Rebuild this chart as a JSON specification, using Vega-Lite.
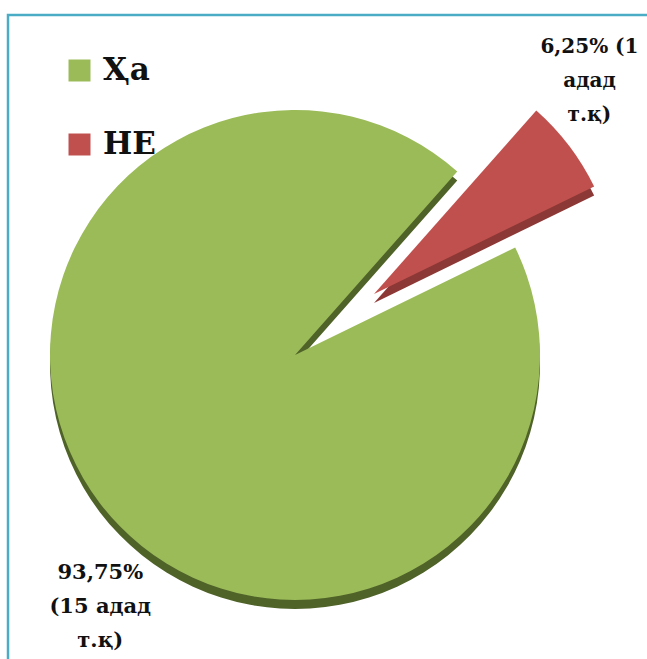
{
  "$schema": "https://vega.github.io/schema/vega-lite/v6.json",
  "width": 660,
  "height": 660,
  "autosize": {"type": "none"},
  "padding": {"left": 8, "top": 15, "right": 0, "bottom": 0},
  "background": "white",
  "view": {"stroke": "#4bacc6", "strokeWidth": 2.5},
  "config": {
    "view": {"stroke": "#4bacc6", "strokeWidth": 2.5},
    "font": "DejaVu Serif"
  },
  "data": {
    "values": [
      {"answer": "Ҳа", "percent": 93.75, "count": 15, "label": "93,75%\n(15 адад\nт.қ)"},
      {"answer": "НЕ", "percent": 6.25, "count": 1, "label": "6,25% (1\nадад\nт.қ)"}
    ]
  },
  "transform": [
    {"stack": "percent", "groupby": [], "sort": [{"field": "percent", "order": "ascending"}], "as": ["t0", "t1"]}
  ],
  "layer": [
    {
      "transform": [{"filter": "datum.answer === 'Ҳа'"}],
      "mark": {"type": "arc", "outerRadius": 245, "xOffset": -43, "yOffset": 19},
      "encoding": {
        "theta": {"field": "t0", "type": "quantitative", "scale": {"domain": [0, 100], "range": [0.724, 7.007]}},
        "theta2": {"field": "t1"},
        "color": {"field": "answer", "type": "nominal", "scale": {"domain": ["Ҳа", "НЕ"], "range": ["#4f6228", "#8c3836"]}, "legend": null}
      }
    },
    {
      "transform": [{"filter": "datum.answer === 'НЕ'"}],
      "mark": {"type": "arc", "outerRadius": 245, "xOffset": 36, "yOffset": -42},
      "encoding": {
        "theta": {"field": "t0", "type": "quantitative", "scale": {"domain": [0, 100], "range": [0.724, 7.007]}},
        "theta2": {"field": "t1"},
        "color": {"field": "answer", "type": "nominal", "scale": {"domain": ["Ҳа", "НЕ"], "range": ["#4f6228", "#8c3836"]}, "legend": null}
      }
    },
    {
      "transform": [{"filter": "datum.answer === 'Ҳа'"}],
      "mark": {"type": "arc", "outerRadius": 245, "xOffset": -43, "yOffset": 10},
      "encoding": {
        "theta": {"field": "t0", "type": "quantitative", "scale": {"domain": [0, 100], "range": [0.724, 7.007]}},
        "theta2": {"field": "t1"},
        "fill": {"field": "answer", "type": "nominal", "title": null,
          "scale": {"domain": ["Ҳа", "НЕ"], "range": ["#9bbb59", "#c0504d"]},
          "legend": {
            "orient": "none", "legendX": 56, "legendY": 40,
            "symbolType": "square", "symbolSize": 484, "symbolStrokeWidth": 0,
            "labelFont": "DejaVu Serif", "labelFontWeight": "bold", "labelFontSize": 31,
            "labelColor": "#111111", "labelOffset": 8, "rowPadding": 42, "labelBaseline": "middle"
          }
        }
      }
    },
    {
      "transform": [{"filter": "datum.answer === 'НЕ'"}],
      "mark": {"type": "arc", "outerRadius": 245, "xOffset": 36, "yOffset": -51},
      "encoding": {
        "theta": {"field": "t0", "type": "quantitative", "scale": {"domain": [0, 100], "range": [0.724, 7.007]}},
        "theta2": {"field": "t1"},
        "fill": {"field": "answer", "type": "nominal", "scale": {"domain": ["Ҳа", "НЕ"], "range": ["#9bbb59", "#c0504d"]}}
      }
    },
    {
      "mark": {"type": "text", "fontWeight": "bold", "fontSize": 20, "lineHeight": 34, "lineBreak": "\n", "align": "center", "baseline": "middle", "color": "#111111", "dx": -43, "dy": -74},
      "encoding": {
        "theta": {"field": "percent", "type": "quantitative", "stack": true, "scale": {"domain": [0, 100], "range": [0.724, 7.007]}},
        "order": {"field": "percent", "sort": "ascending"},
        "radius": {"value": 370},
        "text": {"condition": {"test": "datum.answer === 'НЕ'", "field": "label"}, "value": ""}
      }
    },
    {
      "mark": {"type": "text", "fontWeight": "bold", "fontSize": 21, "lineHeight": 34, "lineBreak": "\n", "align": "center", "baseline": "middle", "color": "#111111", "dx": 1, "dy": 46},
      "encoding": {
        "theta": {"field": "percent", "type": "quantitative", "stack": true, "scale": {"domain": [0, 100], "range": [0.724, 7.007]}},
        "order": {"field": "percent", "sort": "ascending"},
        "radius": {"value": 300},
        "text": {"condition": {"test": "datum.answer === 'Ҳа'", "field": "label"}, "value": ""}
      }
    }
  ],
  "resolve": {"scale": {"color": "independent", "fill": "independent"}}
}
